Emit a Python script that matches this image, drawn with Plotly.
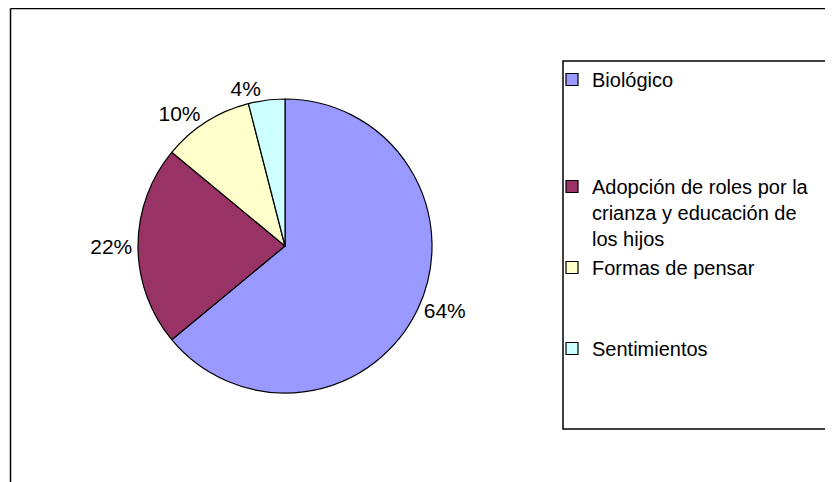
import plotly.graph_objects as go

# Data
categories = ["Biológico",
              "Adopción de roles por la<br>crianza y educación de<br>los hijos",
              "Formas de pensar",
              "Sentimientos"]
values = [64, 22, 10, 4]
colors = ["#9999FF", "#993366", "#FFFFCC", "#CCFFFF"]
# blank lines after each legend entry, to spread them like the original box
legend_pad = [3, 0, 2, 0]

W, H = 833, 482
FONT = "Liberation Sans, Arial, sans-serif"

# the page has an 8px body margin, positions below are figure pixels
def px_x(v):
    return v / W

def px_y(v):
    return 1 - v / H

legend_labels = [c + "<br> " * n for c, n in zip(categories, legend_pad)]

fig = go.Figure(go.Pie(
    labels=legend_labels,
    values=values,
    sort=False,
    direction="clockwise",
    rotation=0,
    marker=dict(colors=colors, line=dict(color="black", width=1.2)),
    textinfo="percent",
    textposition="outside",
    outsidetextfont=dict(family=FONT, size=21, color="black"),
    domain=dict(x=[px_x(130), px_x(424)], y=[px_y(385), px_y(91)]),
    hoverinfo="value+percent",
))

fig.update_layout(
    width=W, height=H,
    margin=dict(l=0, r=0, t=0, b=0, autoexpand=False),
    paper_bgcolor="white",
    plot_bgcolor="white",
    font=dict(family=FONT, size=20, color="black"),
    showlegend=True,
    legend=dict(x=px_x(544), y=px_y(52), xanchor="left", yanchor="top",
                bgcolor="rgba(0,0,0,0)", borderwidth=0, valign="top",
                font=dict(family=FONT, size=20, color="black"),
                traceorder="normal"),
    shapes=[
        # outer chart frame (only top and left edges visible)
        dict(type="line", xref="paper", yref="paper",
             x0=px_x(2.5), x1=1.01, y0=px_y(0.5), y1=px_y(0.5),
             line=dict(color="black", width=1.5)),
        dict(type="line", xref="paper", yref="paper",
             x0=px_x(2.5), x1=px_x(2.5), y0=px_y(0.5), y1=-0.01,
             line=dict(color="black", width=1.5)),
        # legend box
        dict(type="rect", xref="paper", yref="paper",
             x0=px_x(555), x1=1.05, y0=px_y(421), y1=px_y(53),
             line=dict(color="black", width=1.5)),
    ],
)

fig.write_html("out.html")
